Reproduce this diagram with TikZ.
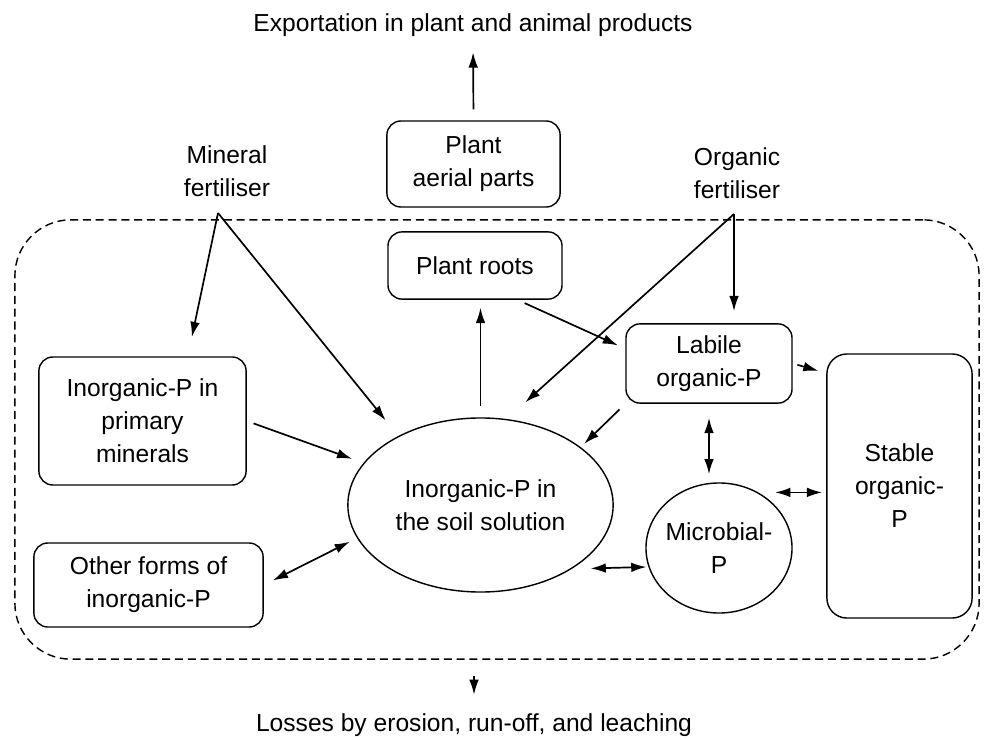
\documentclass[tikz,border=0pt]{standalone}
\usepackage{fontspec}
\setmainfont{Liberation Sans}
\usetikzlibrary{arrows.meta,shapes.geometric}

\begin{document}
\begin{tikzpicture}[x=0.025cm,y=-0.025cm,>={Latex[length=0.38cm,width=0.24cm]}]
\useasboundingbox (0,0) rectangle (984,740);

\node[draw,dashed,dash pattern=on 0.2cm off 0.12cm,line width=1pt,rounded corners=1.4cm,
      minimum width=24.1cm,minimum height=10.98cm] (soil) at (497,439.5) {};

\begin{scope}[every node/.style={align=center,inner sep=0pt,font=\fontsize{17.5}{23.5}\selectfont}]
    \node (export) at (473,25) {Exportation in plant and animal products};
    \node (minfert) at (227,171) {Mineral\\fertiliser};
    \node (orgfert) at (737,173) {Organic\\fertiliser};
    \node (losses) at (474,725) {Losses by erosion, run-off, and leaching};
\end{scope}

\begin{scope}[every node/.style={draw,rounded corners=0.35cm,line width=1pt,align=center,
              inner sep=0pt,font=\fontsize{17.5}{23.5}\selectfont}]
    \node[minimum width=4.33cm,minimum height=2.15cm] (aerial) at (473.5,164) {Plant\\aerial parts};
    \node[minimum width=4.35cm,minimum height=1.68cm] (roots) at (475,265.5) {Plant roots};
    \node[minimum width=4.15cm,minimum height=1.98cm] (labile) at (709,363.5) {Labile\\organic-P};
    \node[minimum width=3.63cm,minimum height=6.6cm,rounded corners=0.5cm] (stable) at (899.5,486) {Stable\\organic-\\P};
    \node[minimum width=5.18cm,minimum height=3.2cm] (primary) at (142.5,421) {Inorganic-P in\\primary\\minerals};
    \node[minimum width=5.73cm,minimum height=2.1cm] (other) at (148.5,585) {Other forms of\\inorganic-P};
    \node[ellipse,sharp corners,minimum width=6.63cm,minimum height=4.35cm] (solution) at (480.5,505) {Inorganic-P in\\the soil solution};
    \node[ellipse,sharp corners,inner sep=-0.1cm,minimum width=3.65cm,minimum height=3.25cm] (microbial) at (719,548) {Microbial-\\P};
\end{scope}

\coordinate (minsplit) at (218,213);
\coordinate (orgsplit) at (734,214);

\begin{scope}[every edge/.style={draw=black,line width=1.2pt,->}]
    \path (aerial.north) edge[shorten <=0.275cm,shorten >=0.39cm] (export.south);
    \path (minsplit) edge[shorten >=0.49cm] (primary.55);
    \path (minsplit) edge[shorten >=0.5cm] (solution.140);
    \path (primary.east) edge[shorten <=0.18cm,shorten >=0.3cm] (solution);
    \path (other.east) edge[<->,shorten <=0.25cm,shorten >=0.2cm] (solution.195);
    \path (solution.north) edge[shorten <=0.275cm,shorten >=0.2cm] (solution.north |- roots.south);
    \path (roots.-39) edge[shorten <=0.2cm,shorten >=0.2cm] (labile.170);
    \path (orgsplit) edge[shorten >=0.62cm] (solution.73);
    \path (orgsplit) edge[shorten >=0.3cm] (orgsplit |- labile.north);
    \path (labile.south west) edge[shorten <=0.2cm,shorten >=0.12cm] (solution.30);
    \path (labile.south) edge[<->,shorten <=0.35cm,shorten >=0.2cm] (labile.south |- microbial.north);
    \path (labile.east) edge[shorten <=0.12cm,shorten >=0.2cm] (stable.123);
    \path (microbial.north east |- stable.185) edge[<->,shorten <=0.1cm,shorten >=0.1cm] (stable.185);
    \path (solution.-35) edge[<->,shorten <=0.47cm,shorten >=0.05cm] (microbial.195);
    \path (soil.south -| losses.north) edge[shorten <=0.4cm,shorten >=0.46cm] (losses.north);
\end{scope}
\end{tikzpicture}
\end{document}
